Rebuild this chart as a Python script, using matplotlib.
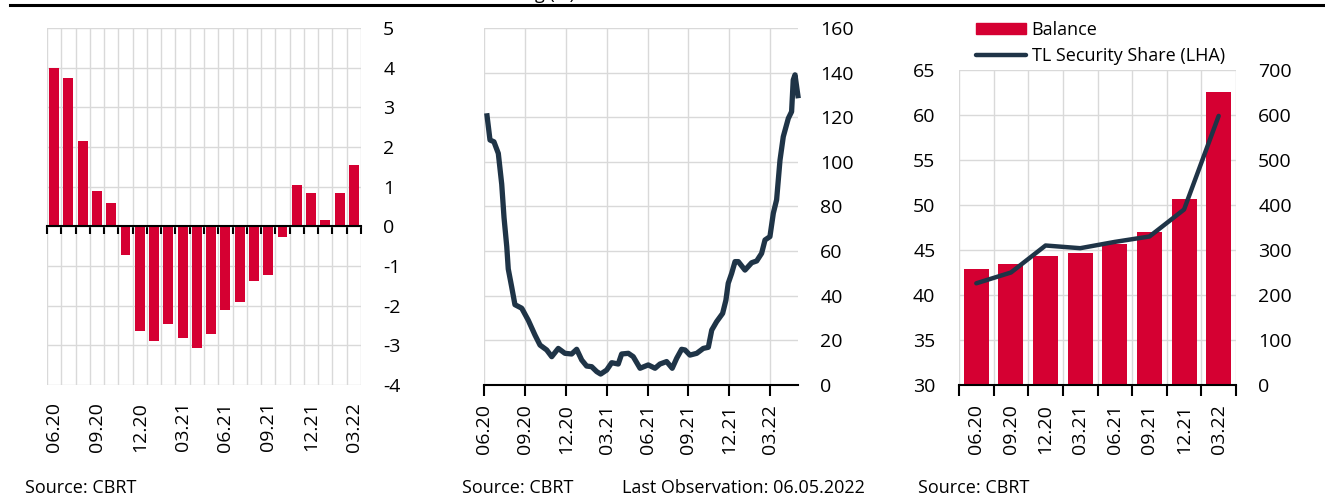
import numpy as np
import matplotlib
matplotlib.use("Agg")
import matplotlib.pyplot as plt
from matplotlib.lines import Line2D
from matplotlib.patches import Patch

plt.rcParams['font.family'] = ['Open Sans', 'DejaVu Sans']
plt.rcParams['axes.unicode_minus'] = False

# =============================================================================
# Data
# =============================================================================
RED = '#D50032'
NAVY = '#1F3447'
GRID = '#D9D9D9'

# panel 1: monthly values, 06.20 - 03.22
months = ['06.20', '07.20', '08.20', '09.20', '10.20', '11.20', '12.20', '01.21',
          '02.21', '03.21', '04.21', '05.21', '06.21', '07.21', '08.21', '09.21',
          '10.21', '11.21', '12.21', '01.22', '02.22', '03.22']
monthly_vals = [4.0, 3.75, 2.15, 0.88, 0.58, -0.72, -2.63, -2.88, -2.45, -2.82, -3.06,
                -2.72, -2.1, -1.92, -1.38, -1.22, -0.27, 1.04, 0.83, 0.15, 0.83, 1.55]

# panel 2: weekly series, x in months since 01.06.2020
weeks_t = [0.20, 0.44, 0.73, 1.05, 1.30, 1.47, 1.67, 1.78, 2.03, 2.27, 2.77, 3.25,
           3.74, 4.11, 4.60, 4.97, 5.45, 5.94, 6.43, 6.80, 7.17, 7.53, 7.90, 8.27,
           8.56, 9.00, 9.37, 9.85, 10.10, 10.59, 10.95, 11.45, 12.05, 12.55, 12.91,
           13.40, 13.81, 14.14, 14.50, 14.75, 15.11, 15.61, 16.09, 16.46, 16.71,
           17.07, 17.51, 17.75, 17.92, 18.17, 18.42, 18.66, 19.15, 19.64, 20.01,
           20.37, 20.62, 20.98, 21.23, 21.47, 21.72, 21.96, 22.33, 22.57, 22.69,
           22.82, 23.06]
weekly_vals = [121.8, 109.8, 109.0, 103.8, 90.0, 75.0, 62.0, 52.0, 44.0, 36.0, 34.4,
               29.0, 22.4, 17.9, 15.7, 12.7, 16.4, 14.2, 13.9, 16.0, 11.2, 8.5, 8.2,
               6.0, 4.9, 6.7, 10.0, 9.4, 13.9, 14.2, 12.7, 7.5, 9.0, 7.5, 9.4, 10.5,
               7.5, 12.0, 16.0, 15.7, 13.4, 14.2, 16.4, 16.9, 24.6, 28.4, 32.1, 38.0,
               45.6, 50.0, 55.3, 55.3, 51.5, 54.8, 55.6, 59.0, 65.0, 66.5, 77.0, 83.0,
               100.8, 111.3, 119.5, 122.5, 136.7, 139.0, 128.5]
quarters = ['06.20', '09.20', '12.20', '03.21', '06.21', '09.21', '12.21', '03.22']

# panel 3: quarterly
balance = [257, 268, 287, 294, 313, 341, 413, 652]
tl_share = [41.3, 42.5, 45.5, 45.2, 45.9, 46.5, 49.5, 59.9]

# =============================================================================
# Figure
# =============================================================================
W, H = 1325, 497
fig = plt.figure(figsize=(W / 100, H / 100), dpi=100)


def box(left, right, top, bottom):
    return [left / W, (H - bottom) / H, (right - left) / W, (bottom - top) / H]


FS = 14
PAD_Y = 16

# ---------------- panel 1 ----------------
ax1 = fig.add_axes(box(47, 361, 28, 385))
x1 = np.arange(len(months))
ax1.bar(x1, monthly_vals, width=0.7, color=RED, zorder=2)
ax1.set_xlim(-0.5, len(months) - 0.5)
ax1.set_ylim(-4, 5)
ax1.set_yticks(range(-4, 6))
ax1.set_xticks(np.arange(-0.5, len(months), 1.0))
ax1.set_xticklabels([])
ax1.grid(True, color=GRID, lw=1, zorder=0)
ax1.set_axisbelow(True)
for s in ['top', 'left', 'right']:
    ax1.spines[s].set_visible(False)
ax1.spines['bottom'].set_position(('data', 0))
ax1.spines['bottom'].set_linewidth(1.5)
ax1.tick_params(axis='x', direction='out', length=6, width=1.5)
ax1.yaxis.tick_right()
ax1.tick_params(axis='y', length=0, pad=PAD_Y, labelsize=FS)
for lab in ax1.get_yticklabels():
    lab.set_horizontalalignment('left')
sec = ax1.secondary_xaxis('bottom')
sec.set_xticks(x1[::3], months[::3], rotation=90)
sec.tick_params(length=0, pad=12, labelsize=FS)
sec.spines['bottom'].set_visible(False)

# ---------------- panel 2 ----------------
ax2 = fig.add_axes(box(484, 798, 28, 385))
ax2.plot(weeks_t, weekly_vals, color=NAVY, lw=3.8, solid_capstyle='butt', zorder=3,
         clip_on=False)
ax2.set_xlim(0, 23.04)
ax2.set_ylim(0, 160)
ax2.set_yticks(range(0, 161, 20))
ax2.set_xticks(np.arange(0, 22, 3), quarters, rotation=90)
ax2.grid(True, color=GRID, lw=1, zorder=0)
for s in ['top', 'left', 'right']:
    ax2.spines[s].set_visible(False)
ax2.spines['bottom'].set_linewidth(1.5)
ax2.tick_params(axis='x', direction='out', length=8, width=1.5, pad=6, labelsize=FS)
ax2.yaxis.tick_right()
ax2.tick_params(axis='y', length=0, pad=PAD_Y, labelsize=FS)

# ---------------- panel 3 ----------------
ax3 = fig.add_axes(box(959, 1236, 70, 385))
ax3b = ax3.twinx()
x3 = np.arange(len(quarters))
ax3b.bar(x3, balance, width=0.72, color=RED, zorder=2)
ax3b.set_ylim(0, 700)
ax3b.set_yticks(range(0, 701, 100))
ax3b.set_xlim(-0.5, len(quarters) - 0.5)
ax3b.grid(True, axis='y', color=GRID, lw=1, zorder=0)
ax3b.set_axisbelow(True)
ax3b.tick_params(axis='y', length=0, pad=PAD_Y, labelsize=FS)

ax3.plot(x3, tl_share, color=NAVY, lw=3.2, solid_capstyle='round', zorder=3)
ax3.set_ylim(30, 65)
ax3.set_yticks(range(30, 66, 5))
ax3.set_xlim(-0.5, len(quarters) - 0.5)
ax3.set_xticks(np.arange(-0.5, len(quarters), 1.0))
ax3.set_xticklabels([])
ax3.tick_params(axis='x', direction='out', length=8, width=1.5)
ax3.tick_params(axis='y', length=0, pad=17, labelsize=FS)
ax3.set_zorder(ax3b.get_zorder() + 1)
ax3.patch.set_visible(False)
# vertical grid on the bar axis, under the bars
for xb in np.arange(-0.5, len(quarters), 1.0):
    ax3b.axvline(xb, color=GRID, lw=1, zorder=0)
sec3 = ax3.secondary_xaxis('bottom')
sec3.set_xticks(x3, quarters, rotation=90)
sec3.tick_params(length=0, pad=14, labelsize=FS)
sec3.spines['bottom'].set_visible(False)
for ax in [ax3, ax3b]:
    for s in ['top', 'left', 'right']:
        ax.spines[s].set_visible(False)
ax3.spines['bottom'].set_linewidth(1.5)
ax3b.spines['bottom'].set_visible(False)

handles = [Patch(color=RED), Line2D([0], [0], color=NAVY, lw=3.2, solid_capstyle='round')]
fig.legend(handles, ['Balance', 'TL Security Share (LHA)'],
           loc='upper left', bbox_to_anchor=(963 / W, 1 - 8 / H), frameon=False,
           fontsize=13, handlelength=2.8, handleheight=0.6, handletextpad=0.3,
           labelspacing=0.45, borderpad=0.2)

# =============================================================================
# Texts and frame
# =============================================================================
fig.add_artist(Line2D([10 / W, 1], [1 - 5 / H, 1 - 5 / H], color='black', lw=2.2))
fig.text(575 / W, 1 + 1 / H, 'ng (%)', ha='right', va='baseline', fontsize=13)
fig.text(25 / W, 1 - 488 / H, 'Source: CBRT', va='center', fontsize=13)
fig.text(462 / W, 1 - 488 / H, 'Source: CBRT', va='center', fontsize=13)
fig.text(622 / W, 1 - 488 / H, 'Last Observation: 06.05.2022', va='center', fontsize=13)
fig.text(918 / W, 1 - 488 / H, 'Source: CBRT', va='center', fontsize=13)

fig.savefig('out.png', dpi=100)
